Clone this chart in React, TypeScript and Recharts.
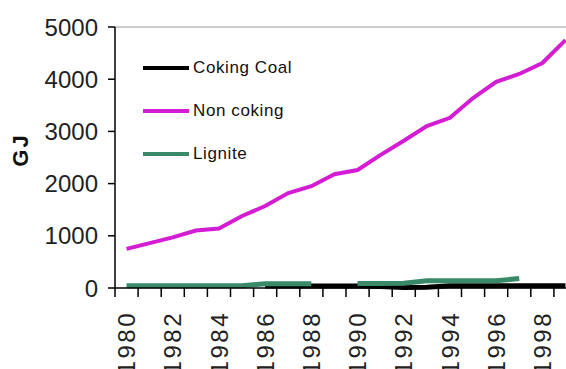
import React from 'react';
import {
  LineChart,
  Line,
  XAxis,
  YAxis,
  ReferenceLine,
  Legend,
} from 'recharts';

const years = [
  1980, 1981, 1982, 1983, 1984, 1985, 1986, 1987, 1988, 1989,
  1990, 1991, 1992, 1993, 1994, 1995, 1996, 1997, 1998, 1999,
];

const cokingCoal = [
  null, null, null, null, null, null, 40, 40, 40, 40,
  40, 30, 10, 15, 45, 45, 45, 45, 45, 45,
];

const nonCoking = [
  750, 860, 970, 1100, 1140, 1380, 1570, 1820, 1950, 2180,
  2260, 2550, 2820, 3100, 3260, 3640, 3950, 4100, 4310, 4750,
];

const lignite = [
  45, 45, 45, 45, 45, 45, 80, 80, 80, null,
  85, 85, 90, 140, 140, 140, 140, 180, null, null,
];

const yTicks = [0, 1000, 2000, 3000, 4000, 5000];
const yearLabels = [1980, 1982, 1984, 1986, 1988, 1990, 1992, 1994, 1996, 1998];

const series = [
  { key: 'coking', name: 'Coking Coal', color: '#000000', width: 5 },
  { key: 'nonCoking', name: 'Non coking', color: '#d41cd4', width: 4 },
  { key: 'lignite', name: 'Lignite', color: '#3a8a6a', width: 5 },
];

const data = years.map((year, i) => ({
  year,
  coking: cokingCoal[i],
  nonCoking: nonCoking[i],
  lignite: lignite[i],
}));

// category boundaries, so tick marks sit between the years like the old spreadsheet chart
const boundaryTicks = [...years.map((y) => y - 0.5), years[years.length - 1] + 0.5];

const font = "'Liberation Sans', Arial, sans-serif";

const YearTick = (props: any) => {
  const { x, y, payload } = props;
  return (
    <g transform={`translate(${x},${y})`}>
      <text
        x={-14}
        y={0}
        dy="0.36em"
        transform="rotate(-90)"
        textAnchor="end"
        fill="#222"
        fontSize={24}
        letterSpacing={2.5}
        fontFamily={font}
      >
        {payload.value}
      </text>
    </g>
  );
};

const GjLabel = () => (
  <text
    x={20}
    y={150}
    transform="rotate(-90 20 150)"
    textAnchor="middle"
    dominantBaseline="central"
    fontFamily={font}
    fontWeight="bold"
    fontSize={22}
    letterSpacing={2}
    fill="#111"
  >
    GJ
  </text>
);

const LegendBox = () => (
  <div style={{ fontFamily: font, fontSize: 17, letterSpacing: 0.6, color: '#111' }}>
    {series.map((s) => (
      <div key={s.key} style={{ height: 43, display: 'flex', alignItems: 'center' }}>
        <div style={{ width: 46, height: 4, background: s.color, marginRight: 4 }} />
        <span>{s.name}</span>
      </div>
    ))}
  </div>
);

export default function App() {
  return (
    <div style={{ position: 'absolute', left: 0, top: 0, width: 566, height: 369, overflow: 'hidden', background: '#fff' }}>
      <LineChart width={580} height={369} data={data} margin={{ top: 27, right: 3, bottom: 0, left: 0 }}>
        <XAxis
          dataKey="year"
          type="number"
          domain={[1979.5, 1999.5]}
          ticks={boundaryTicks}
          allowDataOverflow
          height={9}
          tickSize={9}
          tickFormatter={() => ''}
          axisLine={{ stroke: '#000', strokeWidth: 1.5 }}
          tickLine={{ stroke: '#000', strokeWidth: 1.5 }}
        />
        <XAxis
          xAxisId="labels"
          dataKey="year"
          type="number"
          domain={[1979.5, 1999.5]}
          ticks={yearLabels}
          allowDataOverflow
          height={72}
          tickSize={0}
          tickMargin={0}
          axisLine={false}
          tickLine={false}
          interval={0}
          tick={<YearTick />}
        />
        <YAxis
          width={115}
          domain={[0, 5000]}
          ticks={yTicks}
          tickSize={7}
          tickMargin={10}
          axisLine={{ stroke: '#000', strokeWidth: 1.5 }}
          tickLine={{ stroke: '#000', strokeWidth: 1.5 }}
          tick={{ fill: '#222', fontSize: 24, fontFamily: font }}
          label={<GjLabel />}
        />
        <ReferenceLine y={5000} stroke="#999" strokeWidth={1} />
        <Legend
          layout="vertical"
          align="center"
          verticalAlign="middle"
          content={<LegendBox />}
          wrapperStyle={{ left: 143, top: 46, width: 'auto', height: 'auto' }}
        />
        {series.map((s) => (
          <Line
            key={s.key}
            type="linear"
            dataKey={s.key}
            name={s.name}
            stroke={s.color}
            strokeWidth={s.width}
            dot={false}
            activeDot={false}
            connectNulls={false}
            isAnimationActive={false}
          />
        ))}
      </LineChart>
    </div>
  );
}
